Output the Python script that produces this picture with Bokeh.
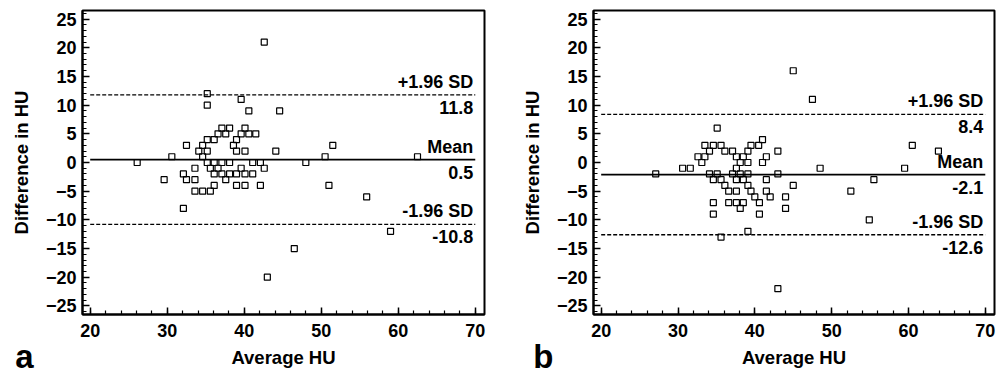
from bokeh.plotting import figure
from bokeh.layouts import row
from bokeh.models import FixedTicker, Range1d
from bokeh.core.properties import value
from bokeh.embed import file_html
from bokeh.resources import INLINE

# ---------------- data ----------------
a_avg = [26.1, 29.6, 30.6, 32.1, 32.1, 32.5, 32.5, 33.6, 33.6, 33.6, 34.1, 34.6, 34.6, 34.6,
         35.2, 35.2, 35.2, 35.2, 35.2, 35.6, 35.6, 36.1, 36.1, 36.1, 36.1, 36.6, 36.6, 37.1,
         37.1, 37.1, 37.6, 37.6, 38.1, 38.1, 38.1, 38.6, 39.0, 39.0, 39.0, 39.0, 39.6, 39.6,
         39.6, 40.1, 40.1, 40.1, 40.1, 40.6, 40.6, 41.1, 41.1, 41.5, 42.1, 42.1, 42.6, 42.6,
         43.0, 44.1, 44.6, 46.5, 48.0, 50.5, 51.0, 51.5, 55.9, 59.0, 62.5]
a_diff = [0, -3, 1, -2, -8, 3, -3, -1, -3, -5, 2, 3, 1, -5,
          12, 10, 4, 2, 0, -1, -5, 4, 0, -2, -4, 5, -1, 6,
          0, -2, 5, -3, 6, 0, -2, 3, 4, 2, -2, -4, 11, 5,
          -1, 6, 2, -2, -4, 9, 5, 0, -2, 5, 0, -4, 21, -1,
          -20, 2, 9, -15, 0, 1, -4, 3, -6, -12, 1]

b_avg = [27.1, 30.6, 31.6, 32.6, 33.1, 33.5, 33.5, 34.1, 34.1, 34.6, 34.6, 34.6, 34.6, 35.1,
         35.1, 35.6, 35.6, 35.6, 36.1, 36.1, 36.6, 36.6, 37.1, 37.1, 37.6, 37.6, 37.6, 37.6,
         37.6, 38.1, 38.1, 38.1, 38.5, 38.5, 38.5, 39.1, 39.1, 39.1, 39.1, 39.1, 39.5, 39.5,
         40.0, 40.5, 40.6, 40.6, 41.0, 41.0, 41.5, 41.5, 41.5, 42.0, 43.0, 43.0, 43.0, 44.0,
         44.0, 45.0, 45.0, 47.5, 48.5, 52.5, 54.9, 55.5, 59.5, 60.5, 63.9]
b_diff = [-2, -1, -1, 1, 0, 3, 1, 2, -2, 3, -3, -7, -9, 6,
          -2, 3, -3, -13, 2, -4, -5, -7, 2, -2, 1, -1, -3, -5,
          -7, 0, -2, -8, 1, -3, -7, 2, 0, -2, -4, -12, 3, -5,
          -6, 3, -7, -9, 4, 0, 1, -3, -5, -6, 2, -2, -22, -6,
          -8, 16, -4, 11, -1, -5, -10, -3, -1, 3, 2]

a_stats = {"upper": 11.8, "mean": 0.5, "lower": -10.8}
b_stats = {"upper": 8.4, "mean": -2.1, "lower": -12.6}

line_x = [20, 70]
x_major = [20, 30, 40, 50, 60, 70]
x_minor = list(range(20, 72, 2))
y_major = [-25, -20, -15, -10, -5, 0, 5, 10, 15, 20, 25]
y_minor = list(range(-26, 27))

FONT = "Liberation Sans"


def make_panel(avg, diff, stats, letter, width, border_left, border_right, letter_dx):
    p = figure(width=width, height=374, output_backend="svg", toolbar_location=None,
               x_range=Range1d(19, 71.2), y_range=Range1d(-26.5, 26.5),
               min_border_left=border_left, min_border_right=border_right,
               min_border_top=10, min_border_bottom=60)
    p.grid.visible = False
    p.outline_line_color = "black"
    p.outline_line_width = 2
    p.background_fill_color = "white"
    p.border_fill_color = "white"

    p.xaxis.ticker = FixedTicker(ticks=x_major, minor_ticks=x_minor)
    p.yaxis.ticker = FixedTicker(ticks=y_major, minor_ticks=y_minor)
    for ax in (p.xaxis[0], p.yaxis[0]):
        ax.axis_line_width = 2
        ax.axis_line_color = "black"
        ax.major_tick_in = 7
        ax.major_tick_out = 0
        ax.minor_tick_in = 4
        ax.minor_tick_out = 0
        ax.major_tick_line_width = 1.5
        ax.minor_tick_line_width = 1.2
        ax.major_label_text_font = FONT
        ax.major_label_text_font_style = "bold"
        ax.major_label_text_font_size = "18px"
        ax.major_label_text_color = "black"
        ax.axis_label_text_font = FONT
        ax.axis_label_text_font_style = "bold"
        ax.axis_label_text_font_size = "18.5px"
        ax.axis_label_text_color = "black"
    p.xaxis.axis_label = "Average HU"
    p.yaxis.axis_label = "Difference in HU"
    p.xaxis.major_label_standoff = 9
    p.xaxis.axis_label_standoff = 7
    p.yaxis.major_label_standoff = 6
    p.yaxis.axis_label_standoff = 11

    # reference lines
    p.line(line_x, [stats["upper"]] * 2, line_color="black", line_width=1.3, line_dash="4 2")
    p.line(line_x, [stats["mean"]] * 2, line_color="black", line_width=1.8)
    p.line(line_x, [stats["lower"]] * 2, line_color="black", line_width=1.3, line_dash="4 2")

    # points
    p.scatter(avg, diff, marker="square", size=6, fill_color=None,
              line_color="black", line_width=1.2)

    # annotations
    ys = [stats["upper"], stats["mean"], stats["lower"]]
    above = ["+1.96 SD", "Mean", "-1.96 SD"]
    below = ["%.1f" % v for v in ys]
    p.text([line_x[1]] * 3, ys, text=above, text_align="right", text_baseline="bottom",
           y_offset=-3, x_offset=-2, text_font=value(FONT), text_font_style="bold",
           text_font_size="18px", text_color="black")
    p.text([line_x[1]] * 3, ys, text=below, text_align="right", text_baseline="top",
           y_offset=6, x_offset=-2, text_font=value(FONT), text_font_style="bold",
           text_font_size="18px", text_color="black")

    # panel letter (drawn at overlay level so it is not clipped to the frame)
    p.text([x_major[0]], [y_major[0]], text=[letter], text_align="left",
           text_baseline="alphabetic", x_offset=letter_dx, y_offset=51,
           text_font=value(FONT), text_font_style="bold", text_font_size="33px",
           text_color="black", level="overlay")
    return p


p1 = make_panel(a_avg, a_diff, a_stats, "a", 518, 82, 34, -75)
p2 = make_panel(b_avg, b_diff, b_stats, "b", 484, 74, 8, -68)

layout = row(p1, p2)
open("out.html", "w").write(file_html(layout, INLINE))
